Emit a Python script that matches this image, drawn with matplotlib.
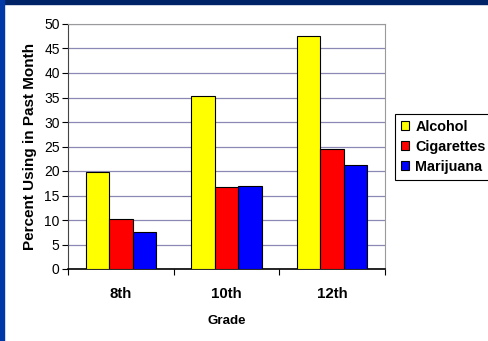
import numpy as np
import matplotlib.pyplot as plt
from matplotlib.patches import Rectangle

grades = ['8th', '10th', '12th']
alcohol = [19.7, 35.4, 47.5]
cigarettes = [10.2, 16.7, 24.4]
marijuana = [7.5, 17.0, 21.2]
series_names = ['Alcohol', 'Cigarettes', 'Marijuana']
colors = ['#ffff00', '#ff0000', '#0000ff']

plt.rcParams['font.family'] = ['Liberation Sans', 'DejaVu Sans']

W, H = 488, 341
fig = plt.figure(figsize=(W / 100, H / 100), dpi=100)
fig.patch.set_facecolor('white')

# slide frame: navy strip on top, blue strip down the left
fig.patches.append(Rectangle((0, 1 - 4 / H), 1, 4 / H, transform=fig.transFigure,
                             color='#002266', zorder=0))
fig.patches.append(Rectangle((0, 0), 4 / W, 1, transform=fig.transFigure,
                             color='#0038a8', zorder=0))

ax = fig.add_axes([68 / W, 1 - 269 / H, (385 - 68) / W, (269 - 24) / H])

x = np.arange(len(grades))
bw = 0.222
for i, (vals, name, c) in enumerate(zip([alcohol, cigarettes, marijuana], series_names, colors)):
    ax.bar(x + (i - 1) * bw, vals, bw, color=c, edgecolor='black', linewidth=0.8,
           label=name, zorder=3)

ax.set_xlim(-0.5, 2.5)
ax.set_ylim(0, 50)
ax.set_yticks(np.arange(0, 51, 5))
ax.yaxis.grid(True, color='#8a88b4', linewidth=0.9, zorder=0)
ax.set_axisbelow(True)

ax.set_xticks(x)
ax.set_xticklabels(grades, fontsize=10.8, fontweight='bold')
ax.set_xticks([-0.5, 0.5, 1.5, 2.5], minor=True)
ax.tick_params(axis='x', which='major', length=0, pad=13)
ax.tick_params(axis='x', which='minor', length=4, direction='out', width=0.8)
ax.tick_params(axis='y', length=4, direction='out', width=0.8, labelsize=10, pad=2)

for s in ['top', 'right']:
    ax.spines[s].set_color('#9a9a9a')
ax.spines['left'].set_color('#444444')
ax.spines['bottom'].set_linewidth(1.2)

ax.set_ylabel('Percent Using in Past Month', fontsize=11, fontweight='bold', labelpad=5)
ax.set_xlabel('Grade', fontsize=9.6, fontweight='bold', labelpad=10)

leg = ax.legend(loc='upper left', bbox_to_anchor=(395 / W, 1 - 114 / H),
                bbox_transform=fig.transFigure, borderaxespad=0, fancybox=False,
                edgecolor='black', prop={'weight': 'bold', 'size': 10.4},
                handlelength=0.6, handleheight=0.6, handletextpad=0.4,
                labelspacing=0.42, borderpad=0.4, framealpha=1)
leg.get_frame().set_linewidth(0.8)

fig.savefig('out.png', dpi=100)
